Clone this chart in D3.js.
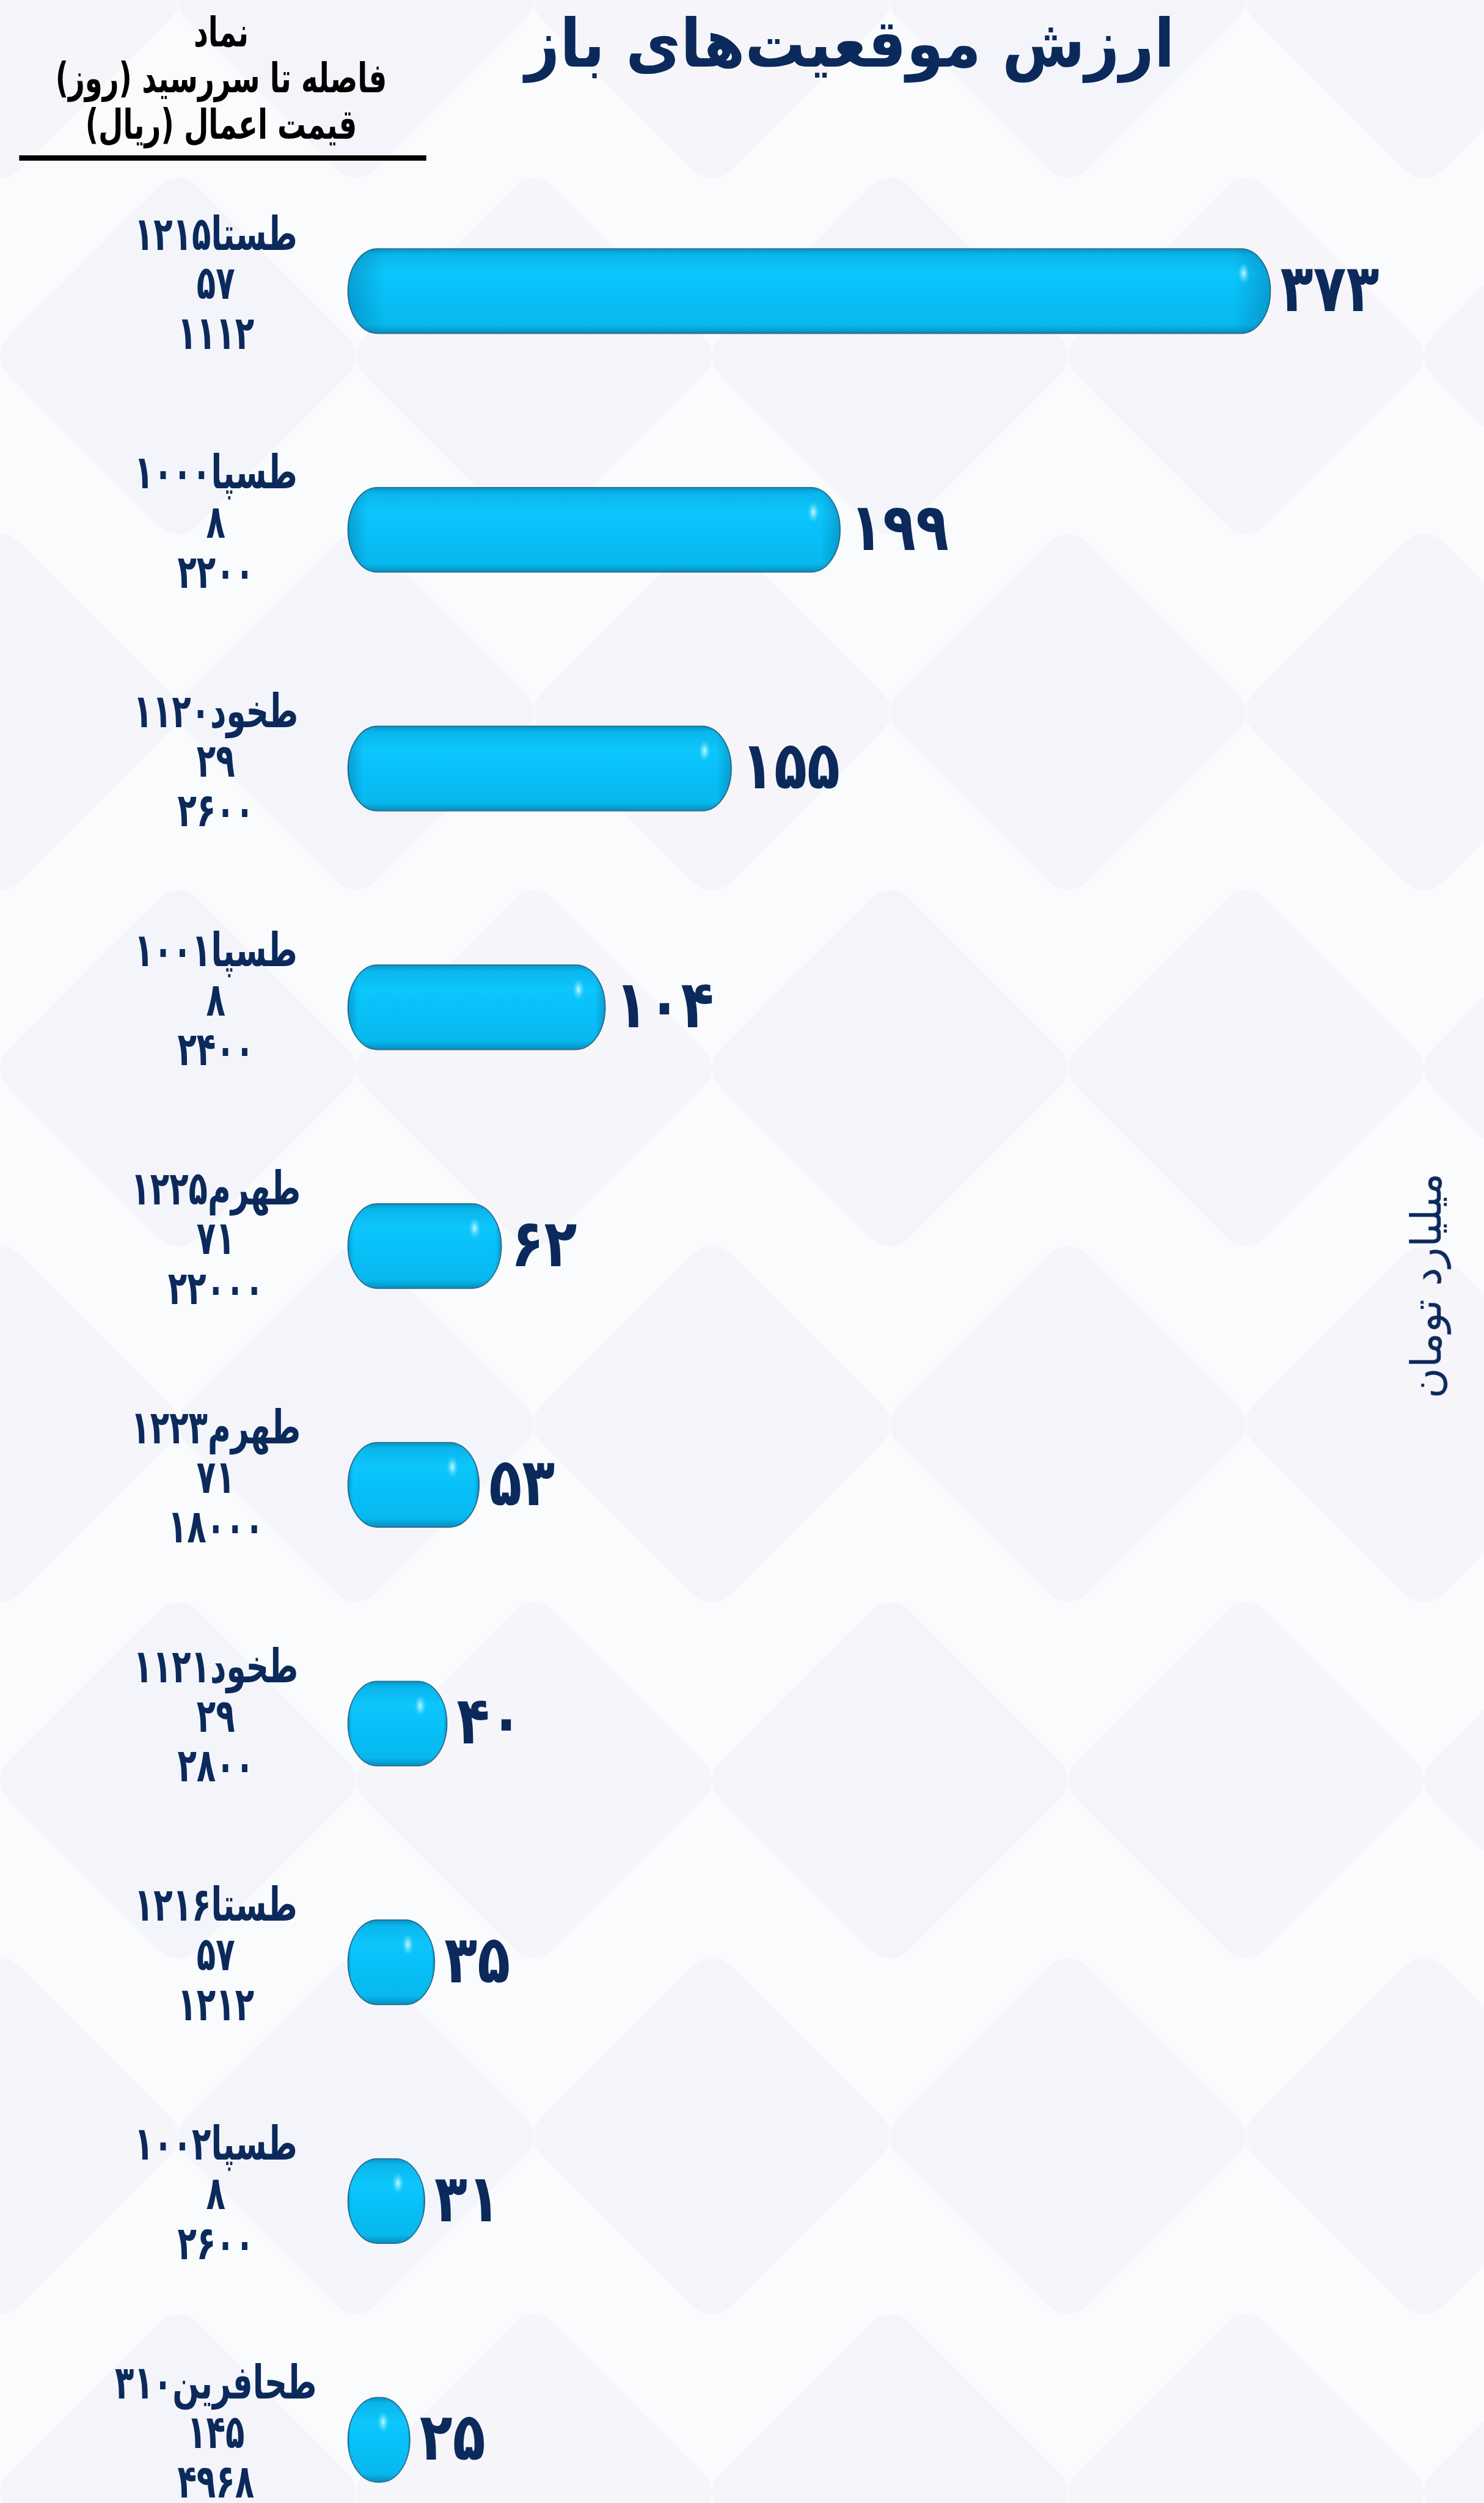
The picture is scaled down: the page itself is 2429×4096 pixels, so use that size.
<!DOCTYPE html>
<html>
<head>
<meta charset="utf-8">
<title>ارزش موقعیت‌های باز</title>
<script src="https://cdn.jsdelivr.net/npm/d3@7/dist/d3.min.js"></script>
<style>
body { margin: 0; background: #fafbfd; }
svg { display: block; }
text { font-family: 'DejaVu Sans', 'Noto Sans', sans-serif; }
</style>
</head>
<body>
<svg id="chart" width="2429" height="4096" viewBox="0 0 3335 5624"></svg>
<script>
// data (میلیارد تومان)
var symbols = ["طستا۱۲۱۵", "طسپا۱۰۰۰", "طخود۱۱۲۰", "طسپا۱۰۰۱", "طهرم۱۲۲۵",
               "طهرم۱۲۲۳", "طخود۱۱۲۱", "طستا۱۲۱۶", "طسپا۱۰۰۲", "طحافرین۳۱۰"];
var daysLeft = [57, 8, 29, 8, 71, 71, 29, 57, 8, 145];
var strikes = [1112, 2200, 2600, 2400, 22000, 18000, 2800, 1212, 2600, 4968];
var values = [373, 199, 155, 104, 62, 53, 40, 35, 31, 25];

var headerLines = ["نماد", "فاصله تا سررسید (روز)", "قیمت اعمال (ریال)"];
var title = "ارزش موقعیت‌های باز";
var unitLabel = "میلیارد تومان";

var navy = "#0b2a5b";

function fa(n) {
	return String(n).replace(/[0-9]/g, function (d) { return "۰۱۲۳۴۵۶۷۸۹"[d]; });
}
// the original font is a tall condensed one, so stretch DejaVu a bit
function place(x, y, sx, sy) {
	return "translate(" + x + "," + y + ") scale(" + sx + "," + sy + ")";
}

var svg = d3.select("#chart");
var W = 3335, H = 5624;

var rows = symbols.map(function (s, i) {
	return { sym: s, days: daysLeft[i], strike: strikes[i], value: values[i] };
});

var x = d3.scaleLinear().domain([0, 373]).range([782, 2855]);
var y = d3.scalePoint().domain(symbols).range([654, 5482]);
var barH = 190;

// gradients
var defs = svg.append("defs");
var g1 = defs.append("linearGradient").attr("id", "barFill")
	.attr("x1", 0).attr("y1", 0).attr("x2", 0).attr("y2", 1);
[["0%", "#0596c8"], ["7%", "#09b6ec"], ["28%", "#0dc6fc"], ["55%", "#08c0f8"], ["90%", "#07b8ee"], ["100%", "#058fc0"]]
	.forEach(function (s) { g1.append("stop").attr("offset", s[0]).attr("stop-color", s[1]); });
var g2 = defs.append("linearGradient").attr("id", "barEnds")
	.attr("x1", 0).attr("y1", 0).attr("x2", 1).attr("y2", 0);
[["0%", 0.3], ["4%", 0], ["96%", 0], ["100%", 0.3]]
	.forEach(function (s) { g2.append("stop").attr("offset", s[0]).attr("stop-color", "#004a78").attr("stop-opacity", s[1]); });
var g3 = defs.append("radialGradient").attr("id", "shine");
g3.append("stop").attr("offset", "0%").attr("stop-color", "#c8f8ff").attr("stop-opacity", 1);
g3.append("stop").attr("offset", "100%").attr("stop-color", "#5fe0ff").attr("stop-opacity", 0);

// faint diamond background
svg.append("rect").attr("width", W).attr("height", H).attr("fill", "#fafbfd");
var bg = svg.append("g").attr("opacity", 0.4);
d3.range(-1, 5).forEach(function (c) {
	d3.range(-1, 8).forEach(function (r) {
		var cx = c * 800 + (r % 2 ? 400 : 0), cy = r * 800;
		bg.append("rect")
			.attr("x", -300).attr("y", -300).attr("width", 600).attr("height", 600)
			.attr("rx", 60)
			.attr("fill", (r + c) % 2 ? "#eceef5" : "#f1eef4")
			.attr("transform", "translate(" + cx + "," + cy + ") rotate(45)");
	});
});

// title
svg.append("text")
	.attr("transform", place(1910, 150, 0.9, 1.0))
	.attr("direction", "rtl")
	.attr("text-anchor", "middle")
	.attr("font-size", 150).attr("font-weight", "bold")
	.attr("fill", navy)
	.text(title);

// header of the label column
svg.append("g").selectAll("text").data(headerLines).join("text")
	.attr("transform", function (d, i) { return place(497, 105 + i * 103, 0.8, 1.15); })
	.attr("direction", "rtl")
	.attr("text-anchor", "middle")
	.attr("font-size", 80).attr("font-weight", "bold")
	.attr("fill", "#000")
	.text(function (d) { return d; });
svg.append("rect").attr("x", 43).attr("y", 349).attr("width", 915).attr("height", 12).attr("fill", "#000");

// bars
var bars = svg.append("g").selectAll("g").data(rows).join("g");
function barShape(sel) {
	sel.attr("x", x(0))
		.attr("y", function (d) { return y(d.sym) - barH / 2; })
		.attr("width", function (d) { return x(d.value) - x(0); })
		.attr("height", barH)
		.attr("rx", function (d) { return Math.min(66, (x(d.value) - x(0)) / 2); })
		.attr("ry", barH / 2);
}
bars.append("rect").call(barShape)
	.attr("fill", "url(#barFill)")
	.attr("stroke", "#2b6e8c").attr("stroke-width", 2.5);
bars.append("rect").call(barShape)
	.attr("fill", "url(#barEnds)");
bars.append("ellipse")
	.attr("cx", function (d) { return x(d.value) - 60; })
	.attr("cy", function (d) { return y(d.sym) - 40; })
	.attr("rx", 13).attr("ry", 24)
	.attr("fill", "url(#shine)");

// value labels
bars.append("text")
	.attr("transform", function (d) { return place(x(d.value) + 22, y(d.sym) + 45, 0.9, 1.1); })
	.attr("font-size", 135).attr("font-weight", "bold")
	.attr("fill", navy)
	.text(function (d) { return fa(d.value); });

// category labels: symbol / days to maturity / strike
var lines = [
	{ dy: -93, get: function (d) { return d.sym; } },
	{ dy: 18, get: function (d) { return fa(d.days); } },
	{ dy: 130, get: function (d) { return fa(d.strike); } }
];
lines.forEach(function (ln) {
	bars.append("text")
		.attr("transform", function (d) { return place(485, y(d.sym) + ln.dy, 0.76, 1.12); })
		.attr("direction", "rtl")
		.attr("text-anchor", "middle")
		.attr("font-size", 93).attr("font-weight", "bold")
		.attr("fill", navy)
		.text(ln.get);
});

// unit label
svg.append("text")
	.attr("transform", "translate(3238,2889) rotate(-90)")
	.attr("direction", "rtl")
	.attr("text-anchor", "middle")
	.attr("font-size", 94)
	.attr("fill", navy)
	.text(unitLabel);
</script>
</body>
</html>
